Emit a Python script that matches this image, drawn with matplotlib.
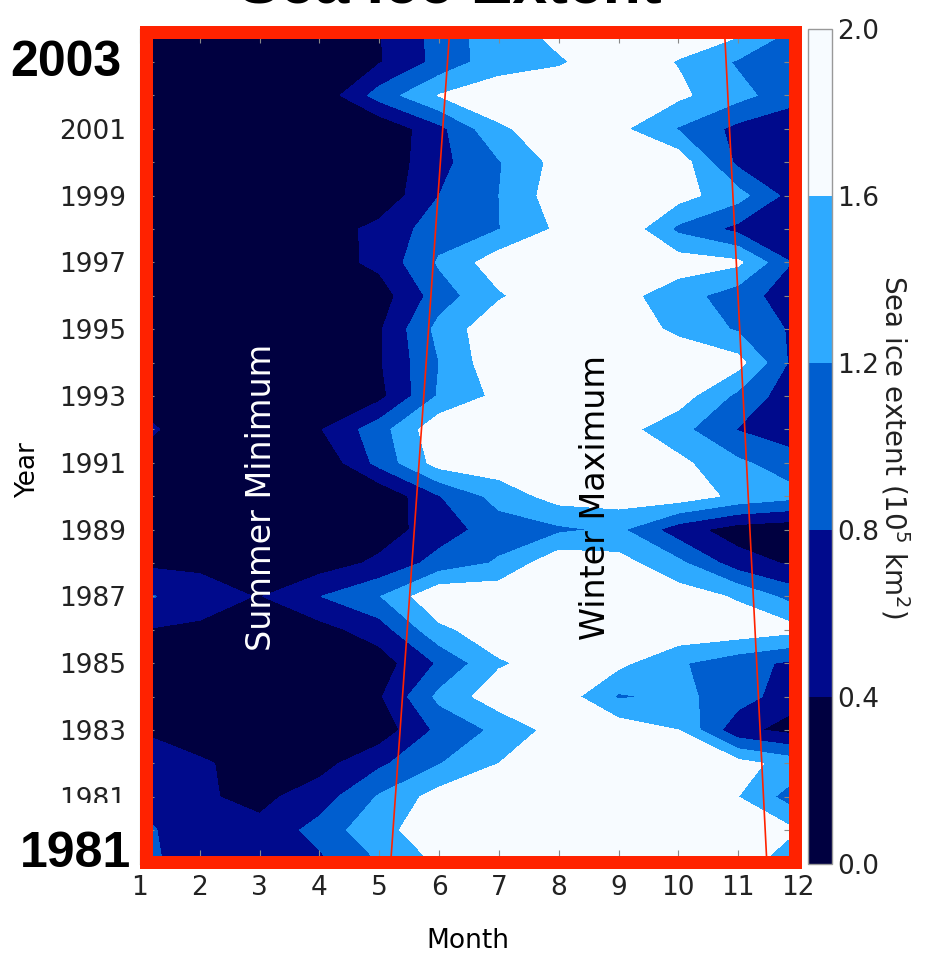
import numpy as np
import matplotlib
matplotlib.use('Agg')
import matplotlib.pyplot as plt
from matplotlib.patches import Rectangle

# grid: one row per year (top = 2004), one column per month
months = list(range(1, 13))
years = list(range(2004, 1978, -1))
extent = [
    [0.10, 0.10, 0.10, 0.15, 0.38, 0.95, 1.45, 1.72, 1.80, 1.80, 1.75, 1.15],  # 2004
    [0.10, 0.10, 0.10, 0.20, 0.37, 0.92, 1.45, 1.56, 1.80, 1.58, 1.15, 0.95],  # 2003
    [0.10, 0.10, 0.10, 0.10, 0.97, 1.62, 1.80, 1.85, 1.90, 1.68, 1.33, 0.92],  # 2002
    [0.10, 0.10, 0.10, 0.10, 0.05, 0.68, 1.55, 1.77, 1.69, 1.17, 0.68, 0.50],  # 2001
    [0.10, 0.10, 0.10, 0.10, 0.10, 0.68, 1.17, 1.74, 1.90, 1.85, 0.70, 0.50],  # 2000
    [0.10, 0.10, 0.10, 0.10, 0.10, 0.80, 1.20, 1.83, 1.90, 1.75, 1.35, 0.56],  # 1999
    [0.10, 0.10, 0.10, 0.15, 0.53, 1.00, 1.19, 1.67, 1.95, 1.11, 0.68, 0.50],  # 1998
    [0.10, 0.10, 0.10, 0.20, 0.50, 1.25, 1.83, 1.90, 1.90, 1.80, 1.68, 0.70],  # 1997
    [0.10, 0.10, 0.10, 0.10, 0.20, 1.00, 1.55, 1.90, 1.74, 1.38, 0.98, 0.55],  # 1996
    [0.10, 0.10, 0.10, 0.15, 0.35, 1.33, 1.90, 1.90, 1.85, 1.51, 1.15, 0.70],  # 1995
    [0.10, 0.10, 0.10, 0.15, 0.36, 1.20, 1.90, 1.90, 1.90, 1.90, 1.75, 0.60],  # 1994
    [0.30, 0.10, 0.10, 0.15, 0.28, 1.25, 1.70, 1.85, 1.90, 1.80, 1.10, 0.50],  # 1993
    [0.50, 0.20, 0.15, 0.37, 1.03, 1.90, 1.90, 1.90, 1.76, 1.33, 0.78, 0.55],  # 1992
    [0.30, 0.10, 0.10, 0.05, 0.93, 1.77, 1.85, 1.90, 1.85, 1.70, 1.27, 0.95],  # 1991
    [0.10, 0.10, 0.10, 0.10, 0.05, 0.78, 1.35, 1.77, 1.80, 1.83, 1.50, 1.30],  # 1990
    [0.10, 0.10, 0.10, 0.10, 0.20, 0.60, 1.00, 1.12, 1.28, 0.58, 0.20, 0.10],  # 1989
    [0.33, 0.33, 0.20, 0.20, 0.48, 0.95, 1.25, 1.90, 1.75, 1.30, 0.58, 0.32],  # 1988
    [0.90, 0.55, 0.38, 0.79, 1.18, 1.95, 1.90, 1.90, 1.90, 1.80, 1.55, 1.00],  # 1987
    [0.40, 0.34, 0.15, 0.25, 0.60, 1.50, 1.85, 1.90, 1.90, 1.90, 1.85, 1.70],  # 1986
    [0.25, 0.15, 0.10, 0.15, 0.20, 0.85, 1.55, 1.80, 1.70, 1.25, 0.95, 0.70],  # 1985
    [0.20, 0.10, 0.10, 0.15, 0.35, 1.30, 1.84, 1.85, 1.15, 1.30, 1.00, 0.50],  # 1984
    [0.38, 0.20, 0.10, 0.15, 0.15, 0.90, 1.29, 1.77, 1.85, 1.60, 0.50, 0.25],  # 1983
    [0.60, 0.45, 0.25, 0.25, 0.72, 1.18, 1.60, 1.85, 1.90, 1.85, 1.75, 1.40],  # 1982
    [0.75, 0.45, 0.30, 0.60, 1.24, 1.77, 1.85, 1.90, 1.90, 1.85, 1.60, 0.95],  # 1981
    [0.88, 0.60, 0.50, 0.95, 1.50, 1.80, 1.90, 1.90, 1.90, 1.90, 1.85, 1.60],  # 1980
    [0.95, 0.55, 0.50, 0.70, 1.20, 1.65, 1.85, 1.90, 1.90, 1.90, 1.75, 1.35],  # 1979
]
levels = [0.0, 0.4, 0.8, 1.2, 1.6, 2.0]
band_colors = ['#000040', '#000a8c', '#005ecf', '#2eaaff', '#f7fbff']

# the two hand drawn red trend lines (month at first and last year)
line_years = [1979, 2004]
summer_line = [5.19, 6.18]
winter_line = [11.48, 10.77]

W, H = 937, 955
def fx(px):
    return px / W
def fy(py):
    return 1 - py / H

fig = plt.figure(figsize=(W / 100, H / 100), dpi=100)
ax = fig.add_axes([fx(140), fy(863.6), fx(798) - fx(140), fy(28.6) - fy(863.6)])

z = np.array(extent)[::-1]
yr = np.array(years)[::-1]
cs = ax.contourf(months, yr, z, levels=levels, colors=band_colors)
ax.plot(summer_line, line_years, color='#ff2200', lw=1.2)
ax.plot(winter_line, line_years, color='#ff2200', lw=1.2)
ax.set_xlim(1, 12)
ax.set_ylim(1979, 2004)

ax.set_xticks(months)
ax.set_xticklabels([str(m) for m in months])
ax.set_yticks(list(range(1979, 2005)))
ax.set_yticklabels([str(y) if (y % 2 == 1 and 1981 <= y <= 2001) else ''
                    for y in range(1979, 2005)])
ax.tick_params(axis='both', direction='in', length=10, width=0.8, color='#888888',
               top=True, right=True, labelsize=19, labelcolor='#222222')
ax.tick_params(axis='x', pad=8)
ax.tick_params(axis='y', pad=10)
for s in ax.spines.values():
    s.set_color('#888888')

ax.set_xlabel('Month', fontsize=19)
ax.xaxis.set_label_coords(0.4977, -0.0927)
ax.xaxis.label.set_va('center')
ax.set_ylabel('Year', fontsize=19)
ax.yaxis.set_label_coords(-0.170, 0.4714)
ax.yaxis.label.set_va('center')

ax.text(3.03, 1989.96, 'Summer Minimum', rotation=90, color='white', fontsize=24,
        ha='center', va='center')
ax.text(8.61, 1989.95, 'Winter Maximum', rotation=90, color='black', fontsize=24,
        ha='center', va='center')

# colorbar
cax = fig.add_axes([fx(808), fy(863.6), fx(832) - fx(808), fy(28.6) - fy(863.6)])
cb = fig.colorbar(cs, cax=cax, ticks=levels)
cb.set_ticklabels(['%.1f' % v for v in levels])
cb.ax.tick_params(length=0, labelsize=19, pad=4, labelcolor='#222222')
cb.outline.set_edgecolor('#999999')
cb.outline.set_linewidth(1)
fig.text(fx(895), fy(447), 'Sea ice extent (10$^5$ km$^2$)', rotation=270,
         fontsize=20, ha='center', va='center', color='#222222')

# red frame and overlay labels
frame = Rectangle((fx(146.5), fy(861.5)), fx(795.5) - fx(146.5), fy(31.5) - fy(861.5),
                  fill=False, edgecolor='#ff2200', linewidth=13 * 0.72,
                  joinstyle='miter', transform=fig.transFigure, zorder=5)
fig.add_artist(frame)

# white patch behind the big "1981" that hides the lower half of the small label
mask = Rectangle((fx(10), fy(878)), fx(134) - fx(10), fy(803) - fy(878),
                 facecolor='white', edgecolor='none', transform=fig.transFigure, zorder=4)
fig.add_artist(mask)

big = dict(fontsize=36, fontweight='bold', ha='center', va='baseline',
           family=['Liberation Sans', 'DejaVu Sans'], zorder=6)
fig.text(fx(66), fy(76), '2003', **big)
fig.text(fx(75.5), fy(867), '1981', **big)

fig.text(fx(450), fy(3), 'Sea Ice Extent', fontsize=45, fontweight='bold',
         ha='center', va='baseline', family=['Liberation Sans', 'DejaVu Sans'])

fig.savefig('out.png', dpi=100)
